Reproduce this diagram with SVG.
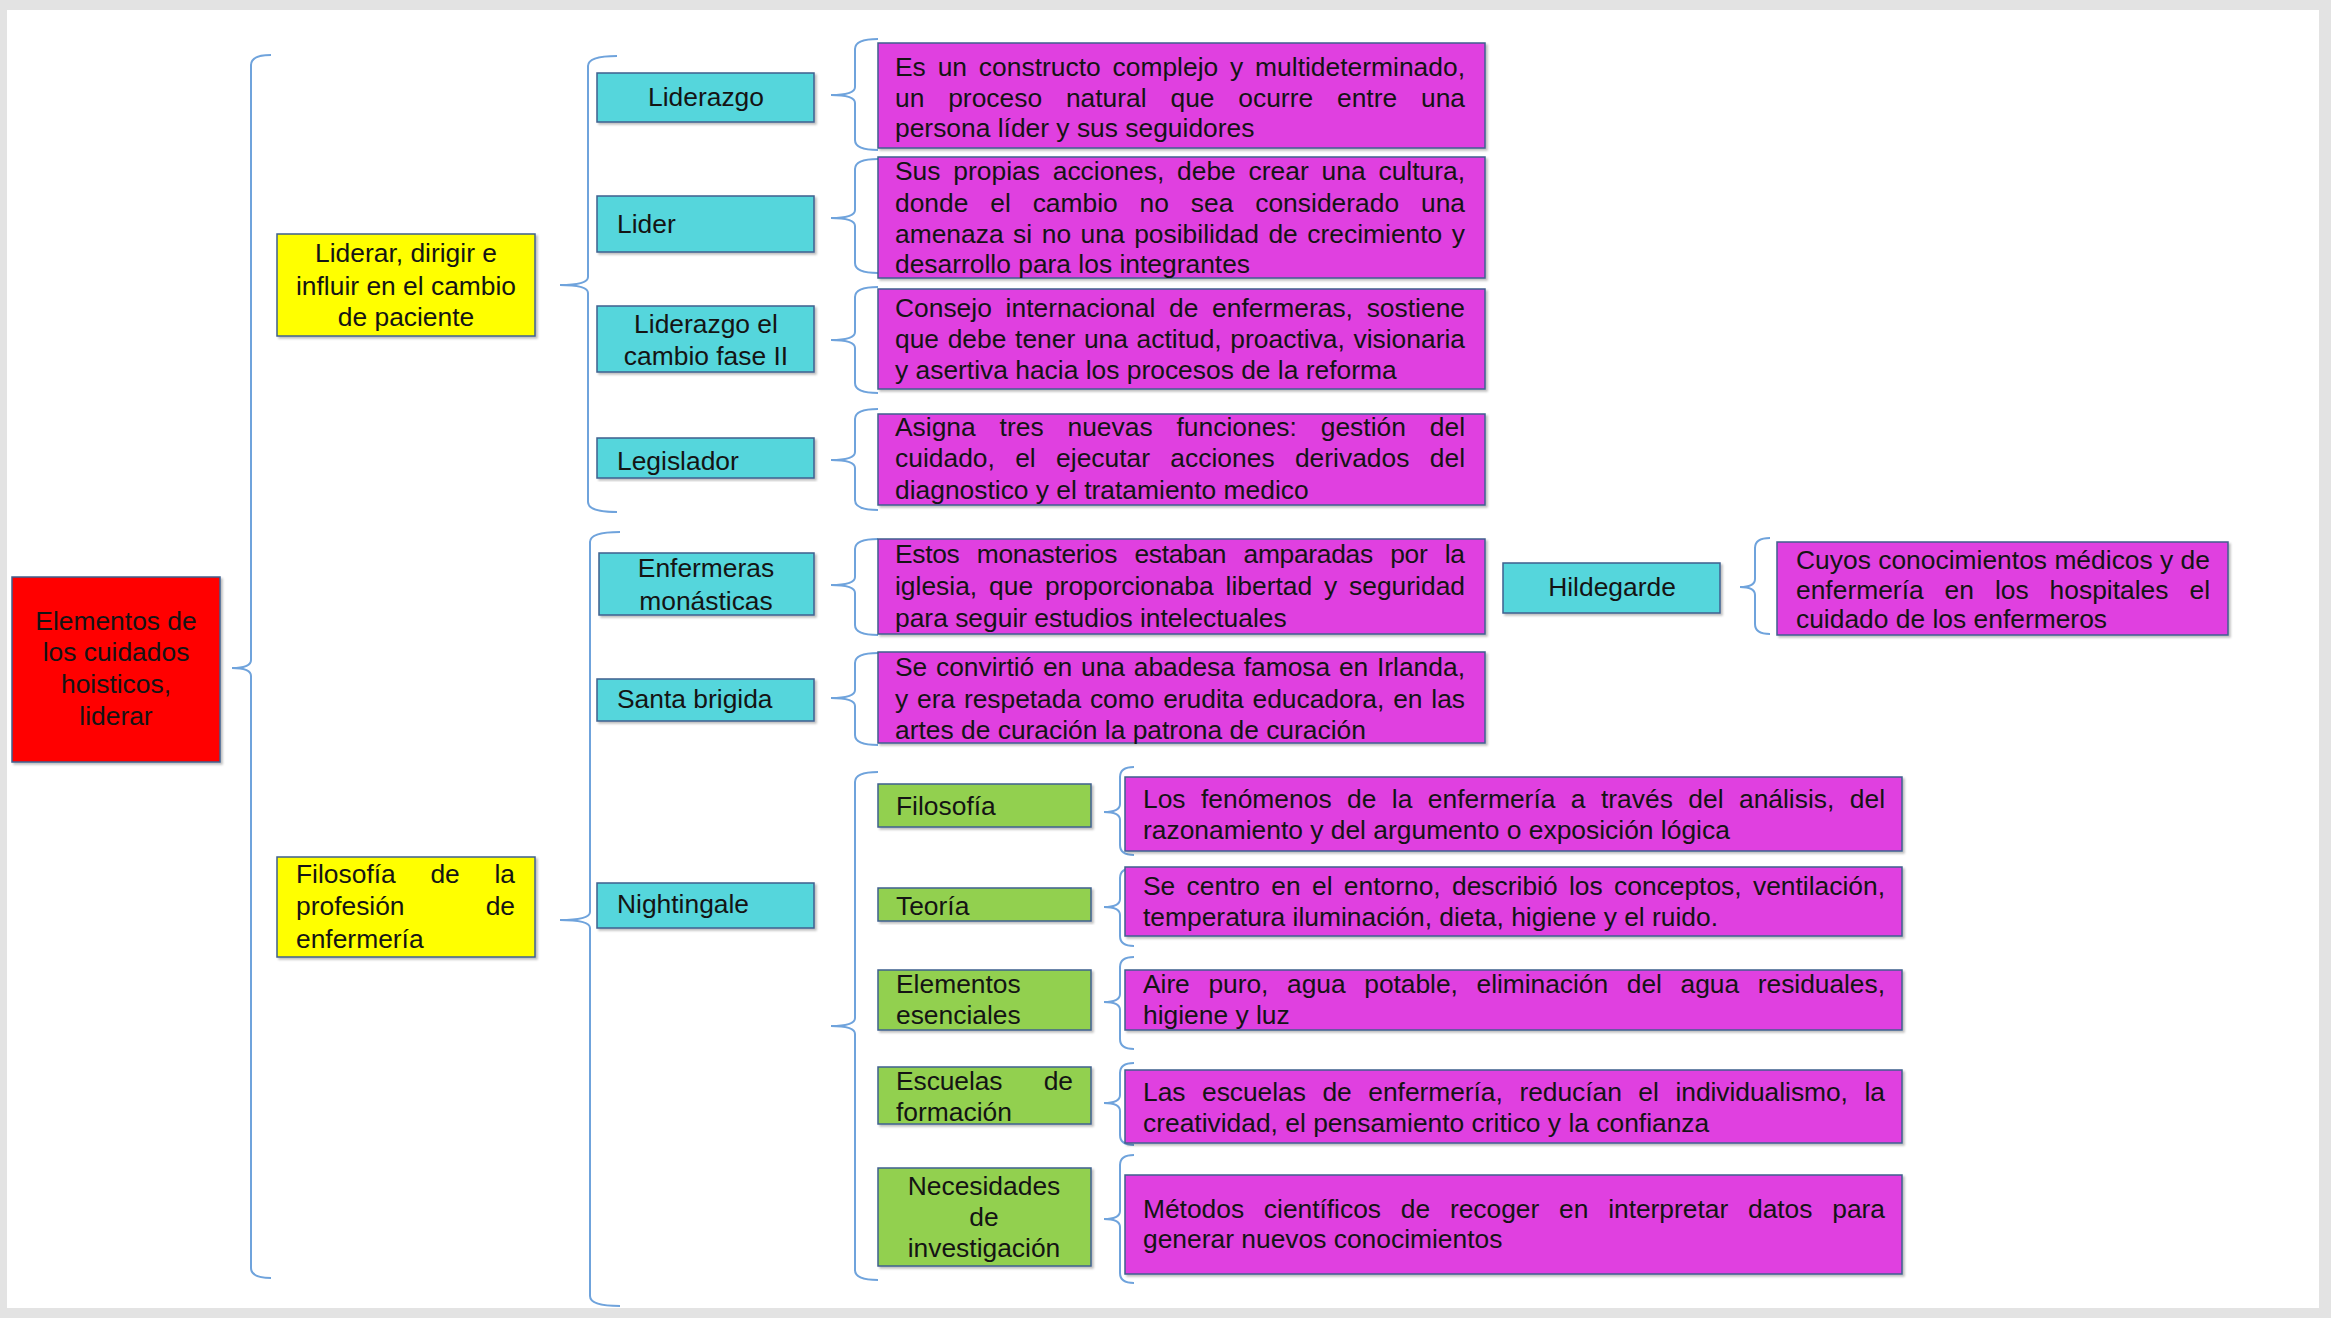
<svg xmlns="http://www.w3.org/2000/svg" width="2331" height="1318" viewBox="0 0 2331 1318">
<defs>
<filter id="sh" x="-5%" y="-5%" width="110%" height="115%"><feDropShadow dx="2" dy="2" stdDeviation="1.2" flood-color="#000" flood-opacity="0.25"/></filter>
</defs>
<style>
.box{stroke:#3f5f8f;stroke-width:1.5;filter:url(#sh)}
.red{fill:#ff0000}.yel{fill:#ffff00}.cy{fill:#55d6dc}.mg{fill:#e040e0}.gr{fill:#92d050}
text{font-family:"Liberation Sans",Arial,sans-serif;font-size:26.4px;fill:#141414}
.c{text-anchor:middle}
.br{fill:none;stroke:#6fa3dc;stroke-width:2}
</style>
<rect width="2331" height="1318" fill="#e3e3e3"/>
<rect x="7" y="10" width="2312" height="1298" fill="#ffffff"/>

<g id="connectors">
<path class="br" d="M271 55 Q251 55 251 65 L251 660 Q251 668 232 668 Q251 668 251 676 L251 1268 Q251 1278 271 1278"/>
<path class="br" d="M617 56 Q588 56 588 66 L588 277 Q588 285 560 285 Q588 285 588 293 L588 502 Q588 512 617 512"/>
<path class="br" d="M620 532 Q590 532 590 542 L590 912 Q590 920 560 920 Q590 920 590 928 L590 1296 Q590 1306 620 1306"/>
<path class="br" d="M878 39 Q855 39 855 49 L855 87 Q855 95 831 95 Q855 95 855 103 L855 140 Q855 150 878 150"/>
<path class="br" d="M878 159 Q855 159 855 169 L855 210 Q855 218 831 218 Q855 218 855 226 L855 263 Q855 273 878 273"/>
<path class="br" d="M878 287 Q855 287 855 297 L855 332 Q855 340 831 340 Q855 340 855 348 L855 383 Q855 393 878 393"/>
<path class="br" d="M878 409 Q855 409 855 419 L855 452 Q855 460 831 460 Q855 460 855 468 L855 500 Q855 510 878 510"/>
<path class="br" d="M878 539 Q855 539 855 549 L855 577 Q855 585 831 585 Q855 585 855 593 L855 625 Q855 635 878 635"/>
<path class="br" d="M878 653 Q855 653 855 663 L855 690 Q855 698 831 698 Q855 698 855 706 L855 735 Q855 745 878 745"/>
<path class="br" d="M878 772 Q855 772 855 782 L855 1018 Q855 1026 831 1026 Q855 1026 855 1034 L855 1270 Q855 1280 878 1280"/>
<path class="br" d="M1770 538 Q1755 538 1755 548 L1755 579 Q1755 587 1740 587 Q1755 587 1755 595 L1755 624 Q1755 634 1770 634"/>
<path class="br" d="M1134 767 Q1120 767 1120 777 L1120 804 Q1120 812 1104 812 Q1120 812 1120 820 L1120 845 Q1120 855 1134 855"/>
<path class="br" d="M1134 868 Q1120 868 1120 878 L1120 899 Q1120 907 1104 907 Q1120 907 1120 915 L1120 936 Q1120 946 1134 946"/>
<path class="br" d="M1134 957 Q1120 957 1120 967 L1120 994 Q1120 1002 1104 1002 Q1120 1002 1120 1010 L1120 1039 Q1120 1049 1134 1049"/>
<path class="br" d="M1134 1063 Q1120 1063 1120 1073 L1120 1095 Q1120 1103 1104 1103 Q1120 1103 1120 1111 L1120 1135 Q1120 1145 1134 1145"/>
<path class="br" d="M1134 1155 Q1120 1155 1120 1165 L1120 1211 Q1120 1219 1104 1219 Q1120 1219 1120 1227 L1120 1273 Q1120 1283 1134 1283"/>
</g>

<g id="root">
<rect class="box red" x="12" y="577" width="208" height="185"/>
<text class="c" x="116" y="630">Elementos de</text>
<text class="c" x="116" y="661">los cuidados</text>
<text class="c" x="116" y="693">hoisticos,</text>
<text class="c" x="116" y="725">liderar</text>
</g>

<g id="liderar">
<rect class="box yel" x="277" y="234" width="258" height="102"/>
<text class="c" x="406" y="262">Liderar, dirigir e</text>
<text class="c" x="406" y="295">influir en el cambio</text>
<text class="c" x="406" y="326">de paciente</text>
</g>

<g id="filosofia-profesion">
<rect class="box yel" x="277" y="857" width="258" height="100"/>
<text x="296" y="883" textLength="219" lengthAdjust="spacing" style="word-spacing:27.3px">Filosofía de la</text>
<text x="296" y="915" textLength="219" lengthAdjust="spacing" style="word-spacing:73.8px">profesión de</text>
<text x="296" y="948">enfermería</text>
</g>

<g id="liderazgo">
<rect class="box cy" x="597" y="73" width="217" height="49"/>
<text class="c" x="706" y="106">Liderazgo</text>
</g>
<g id="lider">
<rect class="box cy" x="597" y="196" width="217" height="56"/>
<text x="617" y="233">Lider</text>
</g>
<g id="liderazgo-cambio">
<rect class="box cy" x="597" y="306" width="217" height="66"/>
<text class="c" x="706" y="333">Liderazgo el</text>
<text class="c" x="706" y="365">cambio fase II</text>
</g>
<g id="legislador">
<rect class="box cy" x="597" y="438" width="217" height="40"/>
<text x="617" y="470">Legislador</text>
</g>
<g id="enfermeras">
<rect class="box cy" x="599" y="553" width="215" height="62"/>
<text class="c" x="706" y="577">Enfermeras</text>
<text class="c" x="706" y="610">monásticas</text>
</g>
<g id="santa-brigida">
<rect class="box cy" x="597" y="679" width="217" height="42"/>
<text x="617" y="708">Santa brigida</text>
</g>
<g id="nightingale">
<rect class="box cy" x="597" y="883" width="217" height="45"/>
<text x="617" y="913">Nightingale</text>
</g>
<g id="hildegarde">
<rect class="box cy" x="1503" y="563" width="217" height="50"/>
<text class="c" x="1612" y="596">Hildegarde</text>
</g>

<g id="desc-liderazgo">
<rect class="box mg" x="878" y="43" width="607" height="105"/>
<text x="895" y="76" textLength="570" lengthAdjust="spacing" style="word-spacing:4.5px">Es un constructo complejo y multideterminado,</text>
<text x="895" y="106.5" textLength="570" lengthAdjust="spacing" style="word-spacing:16.5px">un proceso natural que ocurre entre una</text>
<text x="895" y="137">persona líder y sus seguidores</text>
</g>
<g id="desc-lider">
<rect class="box mg" x="878" y="157" width="607" height="121"/>
<text x="895" y="180" textLength="570" lengthAdjust="spacing" style="word-spacing:5.5px">Sus propias acciones, debe crear una cultura,</text>
<text x="895" y="212" textLength="570" lengthAdjust="spacing" style="word-spacing:14.5px">donde el cambio no sea considerado una</text>
<text x="895" y="243" textLength="570" lengthAdjust="spacing" style="word-spacing:2.2px">amenaza si no una posibilidad de crecimiento y</text>
<text x="895" y="273">desarrollo para los integrantes</text>
</g>
<g id="desc-cambio">
<rect class="box mg" x="878" y="289" width="607" height="100"/>
<text x="895" y="317" textLength="570" lengthAdjust="spacing" style="word-spacing:6.4px">Consejo internacional de enfermeras, sostiene</text>
<text x="895" y="348" textLength="570" lengthAdjust="spacing" style="word-spacing:1.3px">que debe tener una actitud, proactiva, visionaria</text>
<text x="895" y="379">y asertiva hacia los procesos de la reforma</text>
</g>
<g id="desc-legislador">
<rect class="box mg" x="878" y="414" width="607" height="91"/>
<text x="895" y="436" textLength="570" lengthAdjust="spacing" style="word-spacing:16.6px">Asigna tres nuevas funciones: gestión del</text>
<text x="895" y="467" textLength="570" lengthAdjust="spacing" style="word-spacing:13px">cuidado, el ejecutar acciones derivados del</text>
<text x="895" y="499">diagnostico y el tratamiento medico</text>
</g>
<g id="desc-enfermeras">
<rect class="box mg" x="878" y="539" width="607" height="95"/>
<text x="895" y="563" textLength="570" lengthAdjust="spacing" style="word-spacing:10.4px">Estos monasterios estaban amparadas por la</text>
<text x="895" y="595" textLength="570" lengthAdjust="spacing" style="word-spacing:4.5px">iglesia, que proporcionaba libertad y seguridad</text>
<text x="895" y="627">para seguir estudios intelectuales</text>
</g>
<g id="desc-santa-brigida">
<rect class="box mg" x="878" y="652" width="607" height="91"/>
<text x="895" y="676" textLength="570" lengthAdjust="spacing" style="word-spacing:1.35px">Se convirtió en una abadesa famosa en Irlanda,</text>
<text x="895" y="707.5" textLength="570" lengthAdjust="spacing" style="word-spacing:1.56px">y era respetada como erudita educadora, en las</text>
<text x="895" y="739">artes de curación la patrona de curación</text>
</g>
<g id="desc-hildegarde">
<rect class="box mg" x="1777" y="542" width="451" height="93"/>
<text x="1796" y="569" textLength="414" lengthAdjust="spacing">Cuyos conocimientos médicos y de</text>
<text x="1796" y="599" textLength="414" lengthAdjust="spacing" style="word-spacing:13.6px">enfermería en los hospitales el</text>
<text x="1796" y="628">cuidado de los enfermeros</text>
</g>

<g id="filosofia">
<rect class="box gr" x="878" y="784" width="213" height="43"/>
<text x="896" y="815">Filosofía</text>
</g>
<g id="teoria">
<rect class="box gr" x="878" y="888" width="213" height="33"/>
<text x="896" y="915">Teoría</text>
</g>
<g id="elementos">
<rect class="box gr" x="878" y="970" width="213" height="60"/>
<text x="896" y="993">Elementos</text>
<text x="896" y="1024">esenciales</text>
</g>
<g id="escuelas">
<rect class="box gr" x="878" y="1067" width="213" height="57"/>
<text x="896" y="1090" textLength="177" lengthAdjust="spacing" style="word-spacing:34px">Escuelas de</text>
<text x="896" y="1121">formación</text>
</g>
<g id="necesidades">
<rect class="box gr" x="878" y="1168" width="213" height="98"/>
<text class="c" x="984" y="1195">Necesidades</text>
<text class="c" x="984" y="1226">de</text>
<text class="c" x="984" y="1257">investigación</text>
</g>

<g id="desc-filosofia">
<rect class="box mg" x="1125" y="777" width="777" height="74"/>
<text x="1143" y="808" textLength="742" lengthAdjust="spacing" style="word-spacing:8.1px">Los fenómenos de la enfermería a través del análisis, del</text>
<text x="1143" y="839">razonamiento y del argumento o exposición lógica</text>
</g>
<g id="desc-teoria">
<rect class="box mg" x="1125" y="867" width="777" height="69"/>
<text x="1143" y="895" textLength="742" lengthAdjust="spacing" style="word-spacing:4px">Se centro en el entorno, describió los conceptos, ventilación,</text>
<text x="1143" y="926">temperatura iluminación, dieta, higiene y el ruido.</text>
</g>
<g id="desc-elementos">
<rect class="box mg" x="1125" y="970" width="777" height="60"/>
<text x="1143" y="993" textLength="742" lengthAdjust="spacing" style="word-spacing:11.4px">Aire puro, agua potable, eliminación del agua residuales,</text>
<text x="1143" y="1024">higiene y luz</text>
</g>
<g id="desc-escuelas">
<rect class="box mg" x="1125" y="1070" width="777" height="73"/>
<text x="1143" y="1101" textLength="742" lengthAdjust="spacing" style="word-spacing:9.3px">Las escuelas de enfermería, reducían el individualismo, la</text>
<text x="1143" y="1132">creatividad, el pensamiento critico y la confianza</text>
</g>
<g id="desc-necesidades">
<rect class="box mg" x="1125" y="1175" width="777" height="99"/>
<text x="1143" y="1218" textLength="742" lengthAdjust="spacing" style="word-spacing:12.5px">Métodos científicos de recoger en interpretar datos para</text>
<text x="1143" y="1248">generar nuevos conocimientos</text>
</g>
</svg>
